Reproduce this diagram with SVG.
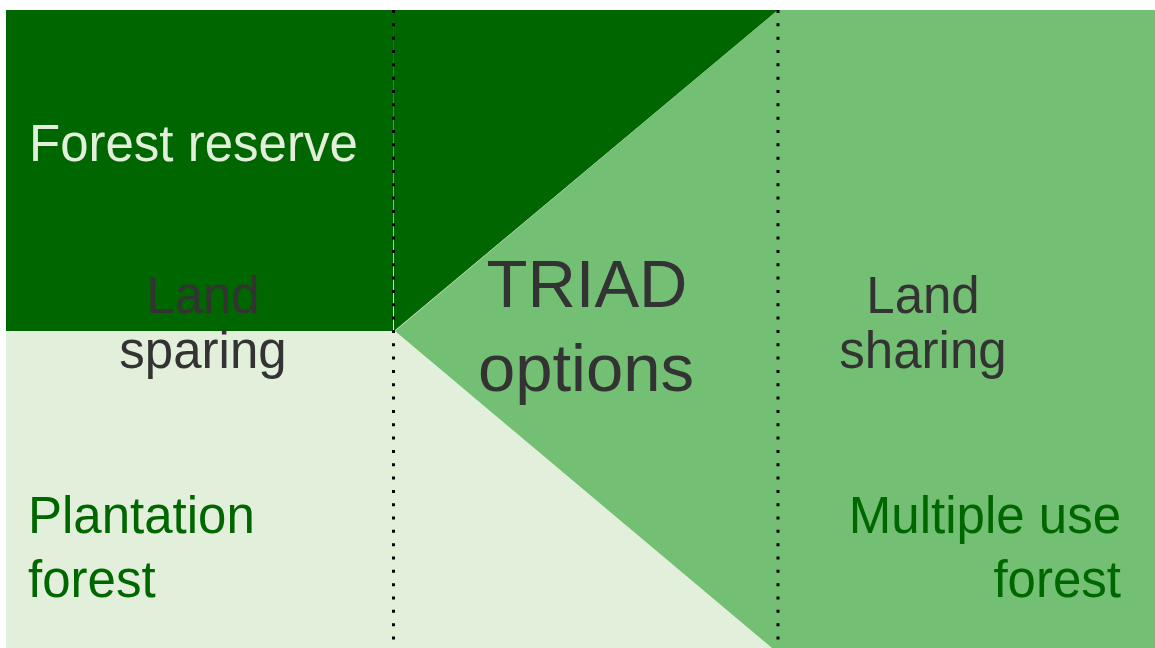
<svg xmlns="http://www.w3.org/2000/svg" width="1155" height="648" viewBox="0 0 1155 648">
<style>
.dark{fill:#006600}
.mid{fill:#73BF73}
.pale{fill:#E2EFDA}
text{font-family:"Liberation Sans",Arial,sans-serif}
.t50{font-size:51px}
.gray{fill:#333333}
.green{fill:#006600}
.light{fill:#E2EFDA}
.dots{stroke:#000;stroke-width:3;stroke-dasharray:3 10.33;fill:none}
</style>
<rect x="0" y="0" width="1155" height="648" fill="#ffffff"/>
<g id="forest-reserve">
<rect class="dark" x="6" y="10" width="388" height="321"/>
<text class="light" x="29" y="161" font-size="51">Forest reserve</text>
</g>
<g id="plantation-forest">
<rect class="pale" x="6" y="331" width="388" height="317"/>
<text class="green t50" x="28" y="533">Plantation</text>
<text class="green t50" x="28" y="597">forest</text>
</g>
<g id="land-sparing">
<text class="gray t50" x="203" y="313" text-anchor="middle">Land</text>
<text class="gray t50" x="203" y="368" text-anchor="middle">sparing</text>
</g>
<g id="triad-options">
<rect class="pale" x="393" y="10" width="386" height="638"/>
<polygon class="dark" points="393,10 778,10 394,331"/>
<polygon class="mid" points="778,10 395,331 772,648 778,648"/>
<text class="gray" x="587" y="307" font-size="67" text-anchor="middle">TRIAD</text>
<text class="gray" x="586" y="391" font-size="67" text-anchor="middle">options</text>
</g>
<g id="multiple-use-forest">
<rect class="mid" x="778" y="10" width="377" height="638"/>
<text class="green t50" x="1121" y="533" text-anchor="end">Multiple use</text>
<text class="green t50" x="1121" y="597" text-anchor="end">forest</text>
</g>
<g id="land-sharing">
<text class="gray t50" x="923" y="313" text-anchor="middle">Land</text>
<text class="gray t50" x="923" y="368" text-anchor="middle">sharing</text>
</g>
<g id="connectors">
<line class="dots" x1="393.5" y1="10" x2="393.5" y2="648"/>
<line class="dots" x1="778" y1="10" x2="778" y2="648"/>
</g>
</svg>
